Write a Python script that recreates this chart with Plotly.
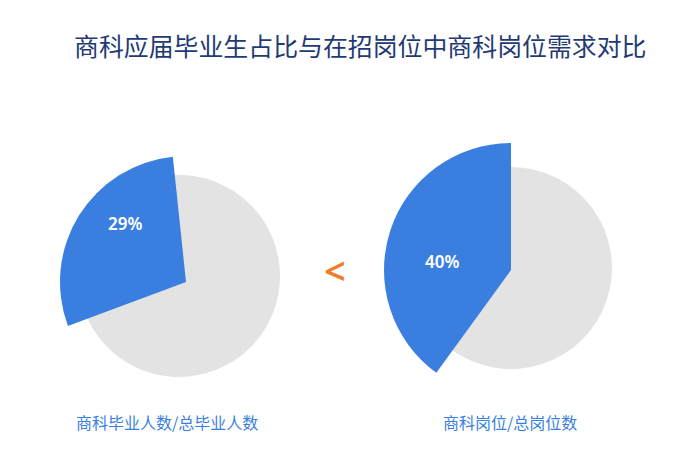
import plotly.graph_objects as go

# shares (%); order: other first, 商科 second
slice_names = ["其他", "商科"]
grad_share = [71, 29]   # 商科毕业人数/总毕业人数
job_share = [60, 40]    # 商科岗位/总岗位数

title_text = "商科应届毕业生占比与在招岗位中商科岗位需求对比"
left_caption = "商科毕业人数/总毕业人数"
right_caption = "商科岗位/总岗位数"

W, H = 700, 465
OFF = 8  # page body margin, the plot div starts 8px in
BLUE = "#3a7fe0"
GREY = "#e3e3e3"
CJK = "Noto Sans CJK SC"


def px(sx):
    return (sx - OFF) / W


def py(sy):
    return 1 - (sy - OFF) / H


def dom(cx, cy, r):
    # screen pixel centre/radius -> paper domain
    return dict(x=[px(cx - r), px(cx + r)], y=[py(cy + r), py(cy - r)])


def pie_pair(values, rot, grey_c, blue_c):
    # grey base + blue slice drawn with a larger radius
    base = go.Pie(labels=slice_names, values=values, sort=False,
                  direction="counterclockwise", rotation=rot,
                  marker=dict(colors=[GREY, "rgba(0,0,0,0)"], line=dict(width=0)),
                  textinfo="none", hoverinfo="label+percent",
                  domain=dom(*grey_c), showlegend=False)
    top = go.Pie(labels=slice_names, values=values, sort=False,
                 direction="counterclockwise", rotation=rot,
                 marker=dict(colors=["rgba(0,0,0,0)", BLUE], line=dict(width=0)),
                 textinfo="none", hoverinfo="label+percent",
                 domain=dom(*blue_c), showlegend=False)
    return [base, top]


fig = go.Figure()
for t in pie_pair(grad_share, -6, (179, 276, 101), (186, 282, 126)):
    fig.add_trace(t)
for t in pie_pair(job_share, 0, (511, 268, 101), (511, 270, 127)):
    fig.add_trace(t)


def label(x, y, text, font):
    fig.add_annotation(x=px(x), y=py(y), xref="paper", yref="paper",
                       xanchor="center", yanchor="middle",
                       text=text, showarrow=False, font=font)


pct_font = dict(family="Noto Sans", size=17, color="white", weight=600)
label(125, 223, f"{grad_share[1]}%", pct_font)
label(442, 261, f"{job_share[1]}%", pct_font)

# comparison sign
label(335, 270, "<", dict(family="Noto Sans", size=38, color="#f07d28", weight=600))

# captions
cap_font = dict(family=CJK, size=16, color=BLUE)
label(166.5, 422, left_caption, cap_font)
label(510, 422, right_caption, cap_font)

label(360, 45, title_text, dict(family=CJK, size=24.9, color="#1f3b73"))

fig.update_layout(
    width=W, height=H,
    margin=dict(l=0, r=0, t=0, b=0),
    paper_bgcolor="white",
    plot_bgcolor="white",
)

fig.write_html("out.html")
